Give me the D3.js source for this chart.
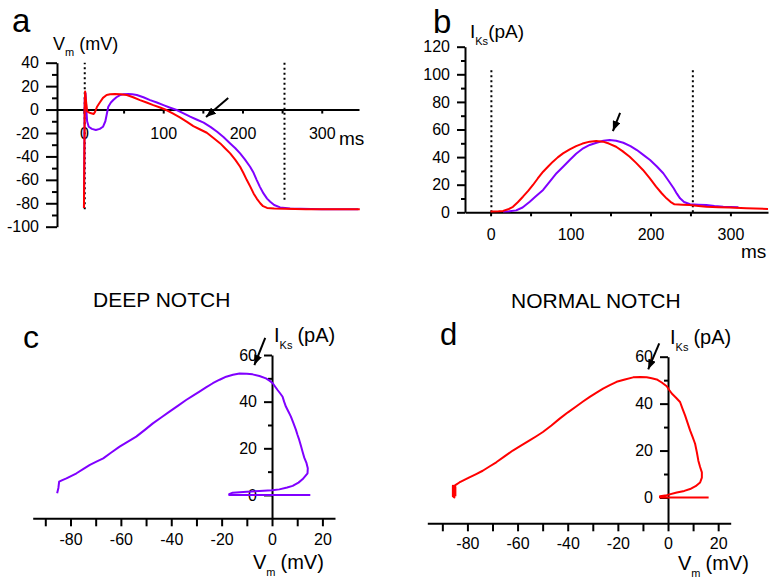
<!DOCTYPE html>
<html>
<head>
<meta charset="utf-8">
<script src="https://cdn.jsdelivr.net/npm/d3@7"></script>
<style>
body { margin: 0; background: #fff; }
svg { display: block; }
text { font-family: Arial, "Liberation Sans", sans-serif; fill: #000; }
</style>
</head>
<body>
<script>
// a: membrane potential (ms, mV)
const apDeep = [[0,-84],[1,10],[2,14],[3,0],[4,-10],[6,-14.7],[10,-16.5],[15,-17.5],[20,-16.5],[24,-14.7],[27,-10],[28.6,-4.7],[30.7,2.4],[34,6],[37,8.1],[41,10.5],[45.5,12.4],[50,13],[56,13.2],[61,13],[66.7,12.4],[75,10.5],[83.5,8.1],[92,6],[100.3,3.8],[108,1.8],[117,-0.4],[125,-3],[134,-6.1],[142,-8.5],[151,-11.2],[160,-15],[168,-19],[176,-23.5],[184.5,-28.9],[191,-33],[197,-37.4],[203,-42.5],[209.6,-48.8],[214,-54],[218,-60.2],[222,-66],[226.5,-71.6],[231,-76],[235,-78.7],[240,-81.5],[247.5,-83.5],[260,-84.5],[300,-85],[346,-85]];
const apNormal = [[0,-84],[1,5],[1.5,15.5],[2.5,8],[4,-1.5],[8,-3],[12.3,-3.8],[14,-2],[16.5,2.4],[20,6],[24,10],[28.6,12.4],[33,13],[39,13.2],[46,13],[54,12.4],[62,10.5],[70.7,8.1],[79,6],[87.5,3.8],[96,1.8],[104,-0.4],[112,-3.3],[121,-6.7],[130,-10.5],[138,-14.1],[146,-16.8],[155,-19.8],[163,-24],[172,-28.9],[178,-33],[184.5,-37.4],[191,-43],[197,-48.8],[201,-54],[205.5,-60.2],[210,-66],[214,-71.6],[218,-76],[222.4,-80],[226,-82.5],[231,-84],[240,-84.5],[280,-85],[348,-85]];

// b: IKs (ms, pA)
const iksDeep = [[15.6,0.5],[24,0.8],[32,1.4],[40,3.5],[49,7.7],[57,11.8],[65.7,16.2],[74,22.2],[82.5,28.3],[91,33.2],[99,37.9],[107,42.4],[115.8,46.4],[124,48.8],[132.5,50.4],[141,51.8],[149,52.4],[157,51.8],[166,50.4],[175,48],[183,45.1],[191,41.6],[199.5,37.9],[208,33.2],[216,28.3],[223,22.5],[229,17.4],[233,13.5],[237,10.1],[242,7.5],[249.5,5.8],[260,5.5],[270,5.3],[280,4.6],[291,4],[300,3.8],[310,3.6]];
const iksNormal = [[0,0.5],[10,0.7],[15.6,1],[22,2.2],[28,4],[34,7.3],[40.5,11.3],[47,15.5],[53,19.8],[59,24.5],[65.7,29.4],[72,33.2],[78,36.7],[84,39.8],[90.6,42.7],[99,45.6],[107,48],[115,49.8],[124,51.2],[132,51.7],[140.5,51.2],[148,49.8],[157,47.5],[165,44.3],[174,40.3],[182,35.8],[190.6,30.7],[199,24.8],[207,18.6],[214,13.8],[220,10.1],[225,7.6],[230,5.8],[240,5.5],[249,5.3],[260,4.6],[270,4],[285,3.7],[299,3.4],[320,2.9],[347,2.4]];

// c, d: IKs against Vm (mV, pA)
const phaseDeep = [[15.2,0],[-17,0],[-17,0.3],[-15.6,1],[-10,1.4],[-5,1.7],[0,2],[2.9,2.4],[6,3.2],[8.2,3.9],[10.5,5.3],[12.1,6.7],[14.1,9.3],[14.2,11.5],[13.7,13.6],[12.8,16],[12.1,18.6],[11.5,21],[10.8,23.6],[10.1,25.8],[9.5,27.9],[8.5,30.8],[7.5,33.6],[6.5,35.8],[5.5,37.9],[4.8,40],[4.2,42.1],[3.2,43.6],[2.2,45],[1.2,46.5],[0.3,47.9],[-1,49],[-2.4,50],[-5,51],[-7.7,51.7],[-10,52],[-12.9,52.1],[-15.5,51.5],[-18.2,50.7],[-20.8,49.4],[-23.5,47.9],[-26.2,46.1],[-28.8,44.3],[-31.5,42.5],[-34.1,40.7],[-37.4,38.2],[-40.7,35.7],[-44,33.2],[-47.3,30.7],[-50.6,27.8],[-53.9,25],[-57.2,22.9],[-60.5,20.7],[-63.8,18.2],[-67,15.7],[-69.7,14.3],[-72.3,12.9],[-75,11.1],[-77.6,9.3],[-79.6,8.2],[-81.6,7.1],[-83,6.5],[-84.5,5.7],[-84.8,3],[-85.3,0.7]];
const phaseNormal = [[16.2,0],[-3.2,0],[-3.2,0.5],[-0.5,1],[3.5,2.1],[6.5,2.8],[8.8,3.6],[11,4.8],[12.8,6.4],[13.5,8.5],[13.5,10.7],[12.8,13],[12.1,15.7],[11.5,19.3],[10.8,22.9],[9.8,25.8],[8.8,28.6],[7.8,31.8],[6.8,35],[5.8,37.8],[4.8,40.7],[3.2,42.5],[1.5,44.3],[0.5,45.8],[-0.5,47.4],[-2.5,49],[-4.5,50.3],[-6.5,50.8],[-8.5,51.2],[-11,51.4],[-13.9,51.2],[-17.2,50.3],[-20.5,49.3],[-23.2,47.9],[-25.9,46.4],[-28.5,44.7],[-31.2,42.9],[-33.9,40.9],[-36.5,38.9],[-39.9,36.3],[-43.2,33.6],[-46.5,30.7],[-49.9,27.9],[-52.5,26.1],[-55.2,24.3],[-58.5,22.2],[-61.9,20],[-65.2,17.5],[-68.5,15],[-71.2,13.2],[-73.9,11.4],[-76.5,10],[-79.2,8.6],[-81.2,7.5],[-83.2,6.4],[-84.5,5.5],[-85.2,5],[-85.2,0],[-85.8,0.5],[-85.8,5],[-84.8,4.5],[-84.8,0.5]];

// dotted markers (ms) and their vertical extents
const markerTimes = [1, 253];
const markerRangeA = [[-85, 40], [-77, 40]];
const markerRangeB = [[0, 104], [0, 104]];

// arrows: [tailX, tailY, tipX, tipY] in data units
const arrowA = [182, 9.8, 154, -6.4];
const arrowB = [162, 72, 153, 58.9];
const arrowC = [-2.7, 67.3, -7, 55.7];
const arrowD = [-3.5, 65.7, -7.9, 54.6];

const aYMajor = [40, 20, 0, -20, -40, -60, -80, -100];
const aYMinor = [30, 10, -10, -30, -50, -70, -90];
const bYMajor = [0, 20, 40, 60, 80, 100, 120];
const bYMinor = [10, 30, 50, 70, 90, 110];
const timeTicks = [0, 50, 100, 150, 200, 250, 300];
const phaseYMajor = [0, 20, 40, 60];
const phaseYMinor = [10, 30, 50];
const phaseXTicks = [-90, -80, -70, -60, -50, -40, -30, -20, -10, 0, 10, 20];

const purple = "#8000ff";
const red = "#ff0000";

const svg = d3.select("body").append("svg")
    .attr("width", 773)
    .attr("height", 579);

svg.append("defs").append("marker")
    .attr("id", "arr")
    .attr("markerUnits", "userSpaceOnUse")
    .attr("markerWidth", 10).attr("markerHeight", 8)
    .attr("refX", 10).attr("refY", 4)
    .attr("orient", "auto")
    .append("path")
    .attr("d", "M0,0L10,4L0,8Z")
    .attr("fill", "#000");

function styleAxis(g, size) {
    g.attr("font-size", size);
    g.selectAll("line, path").attr("stroke", "#000").attr("stroke-width", 2);
}

function yAxis(scale, x, major, minor, big, small, pad) {
    const g = svg.append("g").attr("transform", `translate(${x},0)`);
    g.call(d3.axisLeft(scale).tickValues(major).tickSize(big).tickSizeOuter(0)
        .tickPadding(pad).tickFormat(d => String(d)));
    g.append("g").call(d3.axisLeft(scale).tickValues(minor).tickSize(small).tickFormat(""))
        .select(".domain").remove();
    styleAxis(g, 16);
}

function xAxis(scale, y, ticks, showLabel, size, pad) {
    const g = svg.append("g").attr("transform", `translate(0,${y})`);
    g.call(d3.axisBottom(scale).tickValues(ticks).tickSize(size).tickSizeOuter(0)
        .tickPadding(pad).tickFormat(d => showLabel(d) ? String(d) : ""));
    styleAxis(g, 16);
}

function subLabel(x, y, main, sub, rest, size, subSize, dx) {
    const t = svg.append("text").attr("x", x).attr("y", y).attr("font-size", size);
    t.append("tspan").text(main);
    t.append("tspan").attr("dy", size * 0.35).attr("font-size", subSize).text(sub);
    t.append("tspan").attr("dy", -size * 0.35).attr("dx", dx).text(rest);
}

function text(x, y, s, size) {
    svg.append("text").attr("x", x).attr("y", y).attr("font-size", size).text(s);
}

function curve(data, xs, ys, color) {
    svg.append("path")
        .datum(data)
        .attr("d", d3.line().x(d => xs(d[0])).y(d => ys(d[1])))
        .attr("fill", "none")
        .attr("stroke", color)
        .attr("stroke-width", 2)
        .attr("stroke-linejoin", "round");
}

function arrow(a, xs, ys) {
    svg.append("line")
        .attr("x1", xs(a[0])).attr("y1", ys(a[1]))
        .attr("x2", xs(a[2])).attr("y2", ys(a[3]))
        .attr("stroke", "#000")
        .attr("stroke-width", 2)
        .attr("marker-end", "url(#arr)");
}

function dotted(t, range, xs, ys) {
    svg.append("line")
        .attr("x1", xs(t)).attr("x2", xs(t))
        .attr("y1", ys(range[0])).attr("y2", ys(range[1]))
        .attr("stroke", "#000")
        .attr("stroke-width", 2)
        .attr("stroke-dasharray", "2,3");
}

// ---- panel a
const xa = d3.scaleLinear().domain([-34, 347]).range([57, 359]);
const ya = d3.scaleLinear().domain([-100, 40]).range([226.7, 62.7]);
yAxis(ya, xa(-34), aYMajor, aYMinor, 11, 5, 7);
xAxis(xa, ya(0), timeTicks, d => d % 100 === 0, 4, 14);
markerTimes.forEach((t, i) => dotted(t, markerRangeA[i], xa, ya));
curve(apDeep, xa, ya, purple);
curve(apNormal, xa, ya, red);
arrow(arrowA, xa, ya);
text(12, 32, "a", 33);
subLabel(53, 50, "V", "m", "(mV)", 18, 11, 5);
text(339, 145, "ms", 19);

// ---- panel b
const xb = d3.scaleLinear().domain([-32, 347]).range([465, 768]);
const yb = d3.scaleLinear().domain([0, 120]).range([212.3, 46.7]);
yAxis(yb, xb(-32), bYMajor, bYMinor, 8, 4, 7);
xAxis(xb, yb(0), timeTicks, d => d % 100 === 0, 4, 12);
markerTimes.forEach((t, i) => dotted(t, markerRangeB[i], xb, yb));
curve(iksDeep, xb, yb, purple);
curve(iksNormal, xb, yb, red);
arrow(arrowB, xb, yb);
text(433, 33, "b", 33);
subLabel(470, 38, "I", "Ks", "(pA)", 19, 11, 0);
text(741, 258, "ms", 19);

// ---- panel c
const xc = d3.scaleLinear().domain([-95, 25]).range([32.7, 335]);
const yc = d3.scaleLinear().domain([-10, 60]).range([518.3, 355]);
yAxis(yc, xc(0), phaseYMajor, phaseYMinor, 8, 4, 7);
xAxis(xc, yc(-10), phaseXTicks, d => d % 20 === 0, 8, 7);
curve(phaseDeep, xc, yc, purple);
arrow(arrowC, xc, yc);
text(93, 307, "DEEP NOTCH", 21);
text(23, 348, "c", 32);
subLabel(274, 342, "I", "Ks", "(pA)", 20, 11, 5);
subLabel(253, 569, "V", "m", "(mV)", 20, 11, 5);

// ---- panel d
const xd = d3.scaleLinear().domain([-96, 25]).range([427.3, 730.7]);
const yd = d3.scaleLinear().domain([-11, 60]).range([523.3, 356.7]);
yAxis(yd, xd(0), phaseYMajor, phaseYMinor, 8, 4, 7);
xAxis(xd, yd(-11), phaseXTicks, d => d % 20 === 0, 8, 6);
curve(phaseNormal, xd, yd, red);
arrow(arrowD, xd, yd);
text(511, 308, "NORMAL NOTCH", 21);
text(440, 345, "d", 31);
subLabel(670, 344, "I", "Ks", "(pA)", 20, 11, 5);
subLabel(678, 570, "V", "m", "(mV)", 20, 11, 5);
</script>
</body>
</html>
